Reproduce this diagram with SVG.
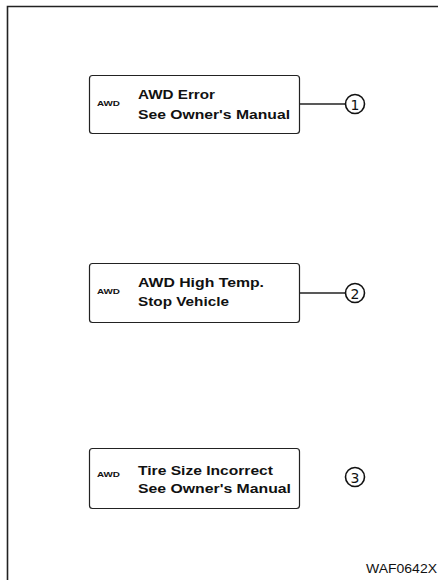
<svg xmlns="http://www.w3.org/2000/svg" width="438" height="580" viewBox="0 0 438 580">
<style>
.box{fill:#fff;stroke:#222;stroke-width:1.2}
.t{font-family:"Liberation Sans",Arial,sans-serif;font-weight:bold;font-size:12.5px;fill:#111}
.s{font-family:"Liberation Sans",Arial,sans-serif;font-weight:bold;font-size:6.5px;fill:#111}
.c{fill:#fff;stroke:#111;stroke-width:1.6}
.n{font-family:"DejaVu Sans",sans-serif;font-size:14px;fill:#111;text-anchor:middle}
.ln{stroke:#222;stroke-width:1.4;fill:none}
</style>
<rect width="438" height="580" fill="#fff"/>
<path d="M7.5,580 V6.5 H438" fill="none" stroke="#222" stroke-width="1.6"/>
<g id="node1">
<rect class="box" x="89.5" y="75.5" width="210" height="58" rx="3"/>
<text class="s" x="97" y="106" textLength="23" lengthAdjust="spacingAndGlyphs">AWD</text>
<text class="t" x="138" y="99" textLength="77" lengthAdjust="spacingAndGlyphs">AWD Error</text>
<text class="t" x="138" y="119" textLength="152" lengthAdjust="spacingAndGlyphs">See Owner's Manual</text>
</g>
<g id="node2">
<rect class="box" x="89.5" y="263.5" width="210" height="59" rx="3"/>
<text class="s" x="97" y="294" textLength="23" lengthAdjust="spacingAndGlyphs">AWD</text>
<text class="t" x="138" y="287" textLength="126" lengthAdjust="spacingAndGlyphs">AWD High Temp.</text>
<text class="t" x="138" y="306" textLength="91" lengthAdjust="spacingAndGlyphs">Stop Vehicle</text>
</g>
<g id="node3">
<rect class="box" x="89.5" y="448.5" width="210" height="60" rx="3"/>
<text class="s" x="97" y="477" textLength="23" lengthAdjust="spacingAndGlyphs">AWD</text>
<text class="t" x="138" y="475" textLength="135" lengthAdjust="spacingAndGlyphs">Tire Size Incorrect</text>
<text class="t" x="138" y="493" textLength="153" lengthAdjust="spacingAndGlyphs">See Owner's Manual</text>
</g>
<g id="connectors">
<line class="ln" x1="300" y1="104" x2="345.5" y2="104"/>
<line class="ln" x1="300" y1="293" x2="345.5" y2="293"/>
</g>
<g id="callout1">
<circle class="c" cx="355" cy="104" r="9.5"/>
<text class="n" x="355" y="109.5">1</text>
</g>
<g id="callout2">
<circle class="c" cx="355" cy="293" r="9.5"/>
<text class="n" x="355" y="298.5">2</text>
</g>
<g id="callout3">
<circle class="c" cx="355" cy="477" r="9.5"/>
<text class="n" x="355" y="482.5">3</text>
</g>
<text x="366" y="573" font-family="Liberation Sans,Arial,sans-serif" font-size="13" fill="#111" textLength="71" lengthAdjust="spacingAndGlyphs">WAF0642X</text>
</svg>
